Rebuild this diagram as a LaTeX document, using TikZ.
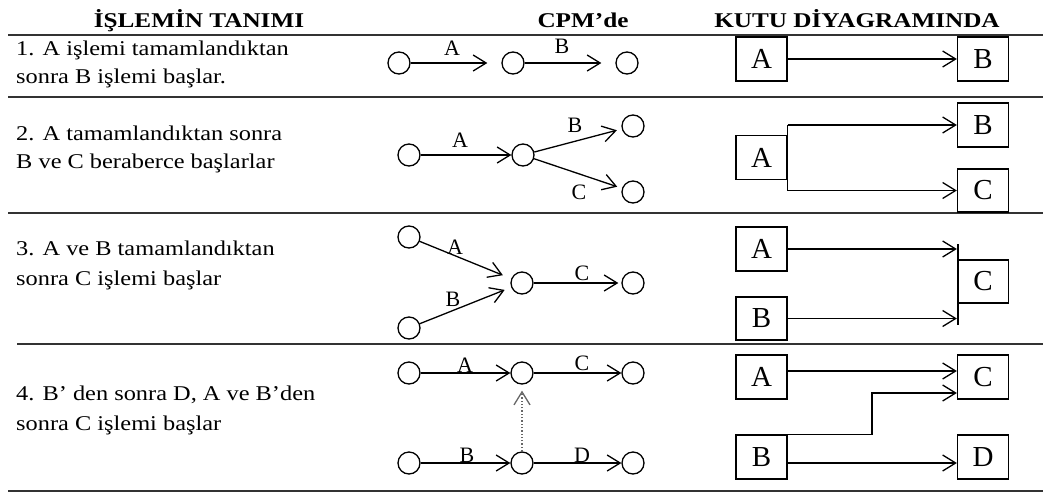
\documentclass[tikz,border=0pt]{standalone}
\usepackage{fontspec}
\setmainfont{Liberation Serif}
\usetikzlibrary{arrows.meta}
\begin{document}
\begin{tikzpicture}[x=1pt,y=-1pt,
 ev/.style={circle,draw,line width=1.3pt,minimum size=22pt,inner sep=0pt},
 bx/.style={rectangle,draw,line width=1.3pt,minimum width=51pt,minimum height=44pt,inner sep=0pt,font=\fontsize{29}{32}\selectfont},
 lb/.style={font=\fontsize{22}{24}\selectfont,inner sep=0pt},
 txt/.style={font=\fontsize{21}{24}\selectfont,anchor=base west,inner sep=0pt,xscale=1.16,transform shape},
 hd/.style={font=\bfseries\fontsize{21}{24}\selectfont,anchor=base,inner sep=0pt,xscale=1.2,transform shape},
 arr/.style={line width=1.3pt,-{Straight Barb[length=13pt,width=16pt]}},
 ln/.style={line width=1.3pt},
 rule/.style={line width=2.6pt,draw=black!80}]
\useasboundingbox (0,0) rectangle (1043,493);
% headers
\node[hd] (h1) at (199,27) {İŞLEMİN TANIMI};
\node[hd] (h2) at (583,27) {CPM’de};
\node[hd] (h3) at (857,27) {KUTU DİYAGRAMINDA};
% rules
\draw[rule] (8,35) -- (1043,35);
\draw[rule] (8,97) -- (1043,97);
\draw[rule] (8,213) -- (1043,213);
\draw[rule] (17,344) -- (1043,344);
\draw[rule] (8,491) -- (1043,491);
% descriptions
\node[txt] (t1a) at (16,55) {1. A işlemi tamamlandıktan};
\node[txt] (t1b) at (16,83) {sonra B işlemi başlar.};
\node[txt] (t2a) at (16,140) {2. A tamamlandıktan sonra};
\node[txt] (t2b) at (16,168) {B ve C beraberce başlarlar};
\node[txt] (t3a) at (16,255) {3. A ve B tamamlandıktan};
\node[txt] (t3b) at (16,285) {sonra C işlemi başlar};
\node[txt] (t4a) at (16,400) {4. B’ den sonra D, A ve B’den};
\node[txt] (t4b) at (16,430) {sonra C işlemi başlar};
% CPM row 1
\node[ev] (a1) at (399,63) {};
\node[ev] (b1) at (513,63) {};
\node[ev] (c1) at (627,63) {};
\draw[arr,shorten >=14pt] (a1) -- (b1);
\draw[arr,shorten >=14pt] (b1) -- (c1);
\node[lb] (la1) at (452,48) {A};
\node[lb] (lb1) at (562,46) {B};
% CPM row 2
\node[ev] (a2) at (409,155) {};
\node[ev] (b2) at (523,155) {};
\node[ev] (p2) at (633,126) {};
\node[ev] (q2) at (633,192) {};
\draw[arr] (a2) -- (b2);
\draw[arr,shorten >=5pt] (b2) -- (p2);
\draw[arr,shorten >=5pt] (b2) -- (q2);
\node[lb] (la2) at (460,140) {A};
\node[lb] (lb2) at (575,125) {B};
\node[lb] (lc2) at (579,192) {C};
% CPM row 3
\node[ev] (a3) at (409,237) {};
\node[ev] (b3) at (409,328) {};
\node[ev] (m3) at (522,283) {};
\node[ev] (c3) at (633,283) {};
\draw[arr,shorten >=9pt] (a3) -- (m3);
\draw[arr,shorten >=7pt] (b3) -- (m3);
\draw[arr,shorten >=3pt] (m3) -- (c3);
\node[lb] (la3) at (455,247) {A};
\node[lb] (lb3) at (453,299) {B};
\node[lb] (lc3) at (582,273) {C};
% CPM row 4
\node[ev] (a4) at (409,373) {};
\node[ev] (m4) at (522,373) {};
\node[ev] (c4) at (633,373) {};
\node[ev] (b4) at (409,463) {};
\node[ev] (n4) at (522,463) {};
\node[ev] (d4) at (633,463) {};
\draw[arr] (a4) -- (m4);
\draw[arr] (m4) -- (c4);
\draw[arr] (b4) -- (n4);
\draw[arr] (n4) -- (d4);
\draw[arr,dotted,draw=black!60,shorten >=6pt] (n4) -- (m4);
\node[lb] (la4) at (465,365) {A};
\node[lb] (lc4) at (582,363) {C};
\node[lb] (lb4) at (467,455) {B};
\node[lb] (ld4) at (582,455) {D};
% Box row 1
\node[bx] (A1) at (761.5,59) {A};
\node[bx] (B1) at (983,59) {B};
\draw[arr] (A1) -- (B1);
% Box row 2
\node[bx] (A2) at (761.5,157.5) {A};
\node[bx] (B2) at (983,125) {B};
\node[bx,minimum height=43pt] (C2) at (983,190.5) {C};
\draw[ln] (A2.east |- B2.west) -- (A2.east |- C2.west);
\draw[arr] (A2.east |- B2.west) -- (B2.west);
\draw[arr] (A2.east |- C2.west) -- (C2.west);
% Box row 3
\node[bx] (A3) at (761.5,249) {A};
\node[bx,minimum height=43pt] (B3) at (761.5,318.5) {B};
\node[bx,minimum height=43pt] (C3) at (983,281.5) {C};
\coordinate (bt3) at (958,244);
\coordinate (bb3) at (958,325);
\draw[line width=2pt] (bt3) -- (bb3);
\draw[arr] (A3.east) -- (A3.east -| C3.west);
\draw[arr] (B3.east) -- (B3.east -| C3.west);
% Box row 4
\node[bx] (A4) at (761.5,377) {A};
\node[bx] (C4) at (983,377) {C};
\node[bx] (B4) at (761.5,457) {B};
\node[bx] (D4) at (983,457) {D};
\coordinate (k4) at (872,400);
\draw[arr] ([yshift=6pt]A4.east) -- ([yshift=6pt]C4.west);
\draw[arr] (B4.north east) -- (B4.north east -| k4) |- ([yshift=-16pt]C4.west);
\draw[arr] ([yshift=-6pt]B4.east) -- ([yshift=-6pt]D4.west);
\end{tikzpicture}
\end{document}
